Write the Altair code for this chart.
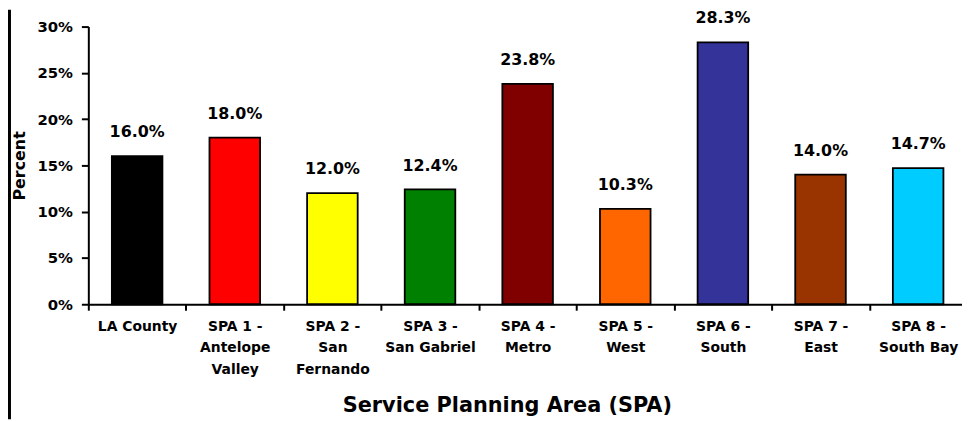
import altair as alt
import pandas as pd

categories = [
    "LA County",
    "SPA 1 -|Antelope|Valley",
    "SPA 2 -|San|Fernando",
    "SPA 3 -|San Gabriel",
    "SPA 4 -|Metro",
    "SPA 5 -|West",
    "SPA 6 -|South",
    "SPA 7 -|East",
    "SPA 8 -|South Bay",
]
values = [16.0, 18.0, 12.0, 12.4, 23.8, 10.3, 28.3, 14.0, 14.7]
colors = ["#000000", "#FF0000", "#FFFF00", "#008000", "#800000",
          "#FF6600", "#333399", "#993300", "#00CCFF"]
y_ticks = [0, 5, 10, 15, 20, 25, 30]

df = pd.DataFrame({"area": categories, "pct": values})

FONT = "DejaVu Sans"

x_enc = alt.X(
    "area:N",
    sort=categories,
    scale=alt.Scale(range=[0, 886], paddingInner=0, paddingOuter=0),
    axis=alt.Axis(
        title="Service Planning Area (SPA)",
        titleFont=FONT, titleFontSize=21, titleFontWeight="bold", titleColor="black",
        titleX=422, titleY=108, titleAlign="center", titleBaseline="alphabetic",
        labelFont=FONT, labelFontSize=14, labelFontWeight="bold", labelColor="black",
        labelAngle=0, labelPadding=9, labelLineHeight=22,
        labelExpr="datum.value ? split(datum.value, '|') : ''",
        tickBand="extent", tickSize=6, tickColor="black", tickWidth=2,
        domainColor="black", domainWidth=2,
    ),
)

bars = alt.Chart(df).mark_bar(width=51, stroke="black", strokeWidth=1.8).encode(
    x=x_enc,
    y=alt.Y(
        "pct:Q",
        scale=alt.Scale(domain=[0, 30], nice=False),
        axis=alt.Axis(
            values=y_ticks,
            labelExpr="datum.value + '%'",
            title="Percent",
            titleFont=FONT, titleFontSize=16, titleFontWeight="bold", titleColor="black",
            titleX=-64, titleY=140, titleAlign="center", titleBaseline="alphabetic",
            labelFont=FONT, labelFontSize=15, labelFontWeight="bold", labelColor="black",
            labelPadding=9, tickSize=7, tickColor="black", tickWidth=2,
            domainColor="black", domainWidth=2, grid=False,
        ),
    ),
    color=alt.Color("area:N", scale=alt.Scale(domain=categories, range=colors), legend=None),
)

labels = alt.Chart(df).mark_text(
    font=FONT, fontSize=16, fontWeight="bold", color="black",
    baseline="alphabetic", dy=-19,
).encode(
    x=alt.X("area:N", sort=categories),
    y="pct:Q",
    text=alt.Text("lbl:N"),
).transform_calculate(
    lbl="format(datum.pct, '.1f') + '%'"
)

strip = alt.Chart(alt.Data(values=[{"a": 1}])).mark_rect(color="black", clip=False).encode(
    x=alt.value(-81), x2=alt.value(-78), y=alt.value(-17), y2=alt.value(396)
)

chart = alt.layer(bars, labels, strip).properties(
    width=881, height=280,
    autosize=alt.AutoSizeParams(type="none"),
    padding={"left": 81, "top": 17, "right": 0, "bottom": 116},
).configure_view(stroke=None)

chart.save("out.html", embed_options={"renderer": "svg", "actions": False})
